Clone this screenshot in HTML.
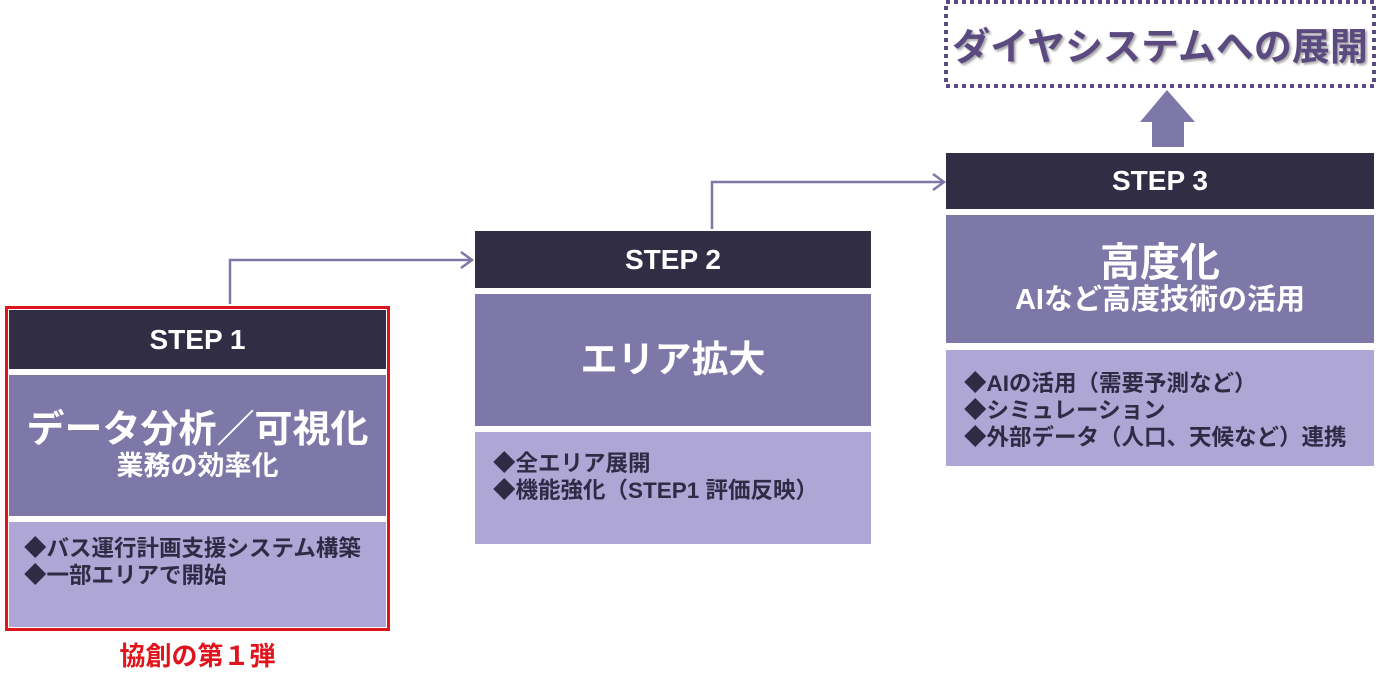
<!DOCTYPE html>
<html><head><meta charset="utf-8"><style>
body{margin:0;width:1398px;height:684px;background:#fff;position:relative;overflow:hidden;font-family:"Liberation Sans","Noto Sans CJK JP",sans-serif;font-weight:bold}
div{position:absolute;box-sizing:border-box}
.hd{background:#312d45;color:#fff;font-size:28px;display:flex;align-items:center;justify-content:center}
.md{background:#7e78a8;color:#fff;display:flex;flex-direction:column;align-items:center;justify-content:center;text-align:center;line-height:1.1}
.lt{background:#aea6d5;color:#2f2b45;font-size:22.5px;line-height:27px;padding:13px 0 0 18px;white-space:nowrap}
</style></head><body>
<svg width="1398" height="684" style="position:absolute;left:0;top:0">
<polyline points="230,304 230,260 470,260" fill="none" stroke="#7e78a8" stroke-width="2.5"/>
<polyline points="461,252 472,260 461,268" fill="none" stroke="#7e78a8" stroke-width="2.5"/>
<polyline points="712,229 712,182 942,182" fill="none" stroke="#7e78a8" stroke-width="2.5"/>
<polyline points="933,174 944,182 933,190" fill="none" stroke="#7e78a8" stroke-width="2.5"/>
<polygon points="1167,90 1195,122 1184,122 1184,147 1152,147 1152,122 1140,122" fill="#7e78a8"/>
<rect x="946" y="2" width="428" height="84" fill="none" stroke="#5b4a80" stroke-width="4" stroke-dasharray="4,4"/>
</svg>
<div style="left:946px;top:6px;width:428px;height:74px;display:flex;align-items:center;justify-content:center;color:#5b4a80;font-size:38px;text-shadow:2px 2px 2px #aaa;white-space:nowrap">ダイヤシステムへの展開</div>

<div style="left:5px;top:306px;width:385px;height:325px;border:3px solid #e0141c"></div>
<div class="hd" style="left:9px;top:310px;width:377px;height:59px">STEP 1</div>
<div class="md" style="left:9px;top:375px;width:377px;height:141px"><span style="font-size:38px;white-space:nowrap">データ分析／可視化</span><span style="font-size:27px">業務の効率化</span></div>
<div class="lt" style="left:9px;top:522px;width:377px;height:105px;padding-left:15px">◆バス運行計画支援システム構築<br>◆一部エリアで開始</div>
<div style="left:5px;top:636px;width:385px;text-align:center;color:#e0141c;font-size:26px">協創の第１弾</div>

<div class="hd" style="left:475px;top:231px;width:396px;height:57px">STEP 2</div>
<div class="md" style="left:475px;top:294px;width:396px;height:132px"><span style="font-size:37px">エリア拡大</span></div>
<div class="lt" style="left:475px;top:432px;width:396px;height:112px;padding-top:18px">◆全エリア展開<br>◆機能強化（STEP1 評価反映）</div>

<div class="hd" style="left:946px;top:153px;width:428px;height:56px">STEP 3</div>
<div class="md" style="left:946px;top:215px;width:428px;height:128px"><span style="font-size:40px">高度化</span><span style="font-size:29px">AIなど高度技術の活用</span></div>
<div class="lt" style="left:946px;top:350px;width:428px;height:116px;padding-top:20px">◆AIの活用（需要予測など）<br>◆シミュレーション<br>◆外部データ（人口、天候など）連携</div>
</body></html>
